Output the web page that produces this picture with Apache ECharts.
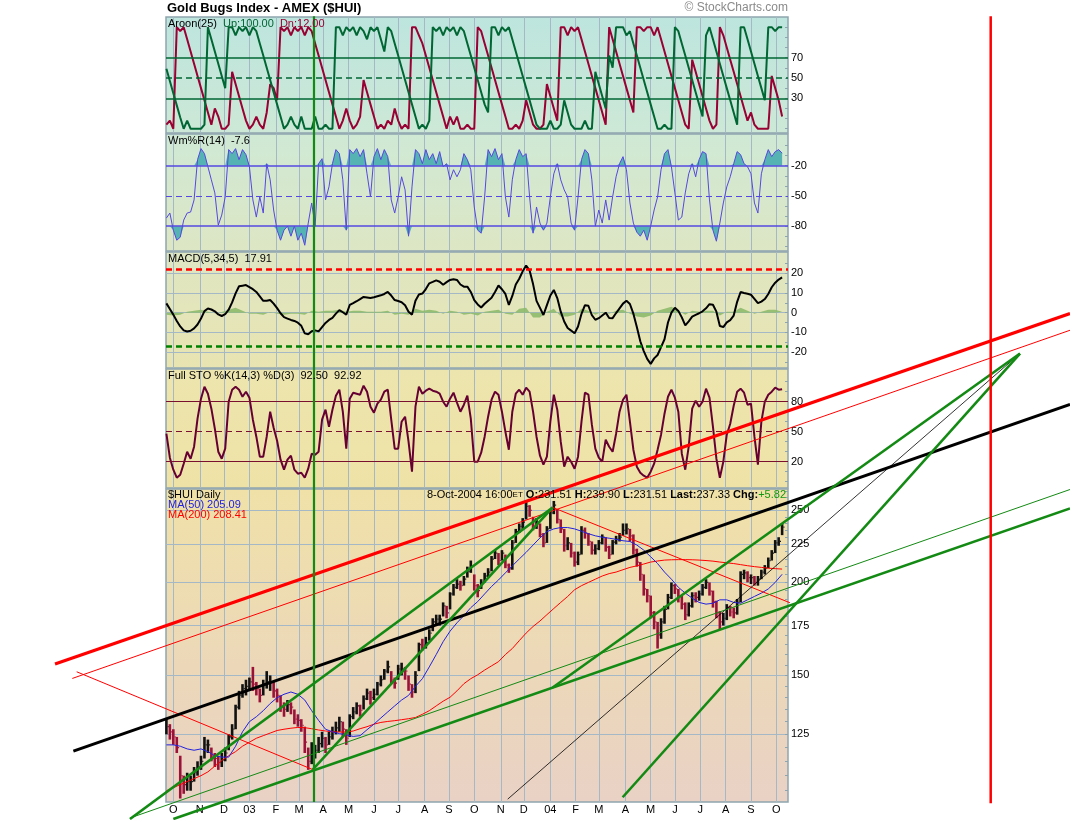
<!DOCTYPE html>
<html><head><meta charset="utf-8">
<script src="https://cdn.jsdelivr.net/npm/echarts@6/dist/echarts.min.js"></script>
<style>html,body{margin:0;padding:0;background:#fff}#c{width:1070px;height:820px}</style>
</head><body><div id="c"></div>
<script>
// ================= DATA =================
const monthLabels = ['O','N','D','03','F','M','A','M','J','J','A','S','O','N','D','04','F','M','A','M','J','J','A','S','O'];
const priceStep = 3;   // trading-day step between price samples
const closes = [128,126,124,120,110,107,108,108,111,113,
115,121,121,117,116,114.5,115.5,118,124,127,
136,141,144,145,147,146,144,141,146,147,
147,143,141,136,135,137,136,131,130.5,128.5,
122,115,119,119,121.5,123.5,121,124,126,127.5,
130,127,123.5,132,134,136.5,134.6,139.5,142,140,
141.5,146,148,152,154,148,146.5,153,153,152,
146,142.5,150,165,164.7,166,171,177,178.5,178.5,
186,182,193,197,199,198,202,207,210,198,
195,200,204,206.5,215,219,214,219,211,208.5,
226,234,237.8,241,253,250,238,241,232,226,
236,248,254,243,236,224,226,219,213,218,
235,233,227,221,222,226,230,223,218,226.5,
228.7,230,235,236,231,221,213,205,196,192,
182,177,170,177,184,191,198,196,192,187,
181,186,192,191,193,197,200,194.7,188.5,182,
177,179,185,182.5,182,188,205,206,203,203,
200,202,206.5,209,214,219,226,227,237.33];
const highs = [131,129,127,124,117,110,111,110,113,115,
117,124,123,120,118,117,118,120,125,129,
137,143,146,148,149,154,147,144,148,152,
150,147,144,141,138,139,138,135,133,131,
128,120,122,121,124,126,124,126,128,130,
132,130,127,133,136,138,137,141,144,143,
144,147,150,153,157,152,149,155,156,154,
150,146,152,166,168,169,173,179,181,181,
188,186,194,199,202,201,204,210,214,205,
199,202,206,209,217,221,219,221,218,212,
228,236,240,244,256.5,254,245,244,240,233,
238,250,257.3,251,243,236,230,226,220,220,
238,237,233,227,225,228,232,230,224,228,
231,233,240,240,236,232,222,213,205,196,
192,183,177,179,186,193,200,199,196,192,
188,188,194,194,195,199,202,200,195,189,
183,182,187,186,185,190,207,208,207,205,
204,204,208,211,216,221,228,230,239.9];
const lows = [125,123,121,118,102.5,104,105,105,108,110,
112,116,118,115,113,112,113,115,119,123,
127,135,140,141,143,143,141,138,141,144,
143,140,138,134,132,134,133,129,128,126,
118,112,114,116,118,120,118,121,123,125,
126,124,121,124,131,133,132,135,139,137,
139,141,145,148,151,146,144,148,150,148,
143,140,142,152,162,163,167,172,175,175,
180,179,184,192,196,195,198,203,206,195,
191,196,200,203,207,215,211,214,209,206,
208,226,233,236,243,245,235,236,230,223,
226,236,247,240,233,220,221,216,210,211,
218,229,224,218,218,221,225,220,215,218,
225,227,231,232,227,218,210,201,192,188,
179,173,163,168,176,184,190,193,188,184,
178,180,185,188,189,192,196,192,185,179,
173,175,178,180,179,181,188,202,200,199,
198,198,202,205,209,214,219,224,231.5];

const maStep = 6;      // trading-day step for the moving averages
const ma50 = [121,121,120.5,119.5,119,119.5,118.5,117,116.5,116.5,
120.5,126,130,132,134.5,137.5,140,141.5,142.5,141.5,
139,134.5,130.5,127,126,125.3,124.8,124.2,124.5,126.8,
129,131.5,134,136.5,139,141,145,148.5,154,160,
166.5,172,176.5,180.5,185,188.5,193,197.5,201.5,206,
210.5,215,219.5,224.5,229.5,234,236,237,237,236,
234.3,232.5,231,230,229.3,228.5,227.5,227,224.5,221,
216.5,212,206.5,202,197,193.5,190.5,188,187,187.5,
189.5,189.5,188,187.5,189.5,191.5,193.5,196,200,205.09];
const ma200 = [105,106,107,108,109,110,111.3,113.3,115.3,117,
118.5,120.5,122,123.5,124.5,125.5,126.5,127,127.4,127.7,
127.6,127.2,126.7,126.3,126,125.9,125.9,126.3,127.2,128,
129,129.7,130.1,130.4,130.8,131.2,131.7,133,134.5,136.5,
138.5,140.2,143,146.2,148.5,150.3,152.5,154.5,156.5,160,
163,167,171,174.5,177.5,181,184.5,188,191.5,195.5,
198,200,202,204,205.5,206.5,208,209.5,210.5,211.7,
213,213.7,214.3,214.5,214.6,214.6,214.5,214.3,214,213.6,
213,212.5,212,211.3,210.6,210,209.5,209,208.7,208.41];

const indStep = 3;     // trading-day step for the indicator lines
const aroonUp = [59,47,35,23,11,0,8,0,0,0,
0,4,100,88,76,64,52,40,100,100,
92,100,96,100,92,100,96,84,72,60,
48,36,24,12,0,4,12,4,0,12,
0,0,0,12,0,0,4,0,0,100,
100,92,100,96,100,92,100,96,88,100,
96,100,88,76,100,96,84,72,60,48,
36,24,12,0,4,0,8,100,96,100,
92,100,96,100,92,100,96,84,72,60,
48,36,24,16,100,100,92,100,96,100,
88,76,64,52,40,28,16,4,0,0,
0,8,0,0,4,28,16,4,0,0,
0,8,0,0,56,44,32,20,72,60,
100,100,100,92,96,84,72,60,48,36,
24,12,0,0,4,0,0,100,96,84,
72,60,48,36,24,12,92,100,88,76,
64,52,40,28,16,4,100,100,88,76,
64,52,40,28,100,100,96,100,100];
const aroonDn = [4,8,0,100,96,100,88,76,64,52,
40,28,16,4,20,12,0,0,4,56,
44,32,20,8,0,4,12,4,0,16,
44,40,28,100,96,100,92,100,96,100,
92,100,96,84,72,60,48,36,24,12,
0,8,20,8,0,4,12,48,36,24,
12,0,4,0,8,4,20,8,0,4,
0,100,100,92,84,72,60,48,36,24,
12,0,12,4,12,0,0,4,0,0,
100,96,84,72,60,48,36,24,12,0,
0,4,0,8,28,16,4,0,0,4,
44,32,20,8,100,100,92,100,96,100,
88,76,64,52,40,28,16,4,100,88,
76,64,52,40,28,16,100,100,96,100,
100,92,100,88,76,64,52,40,28,16,
4,0,68,56,44,32,20,8,0,4,
100,92,80,68,56,44,32,20,8,16,
4,0,0,0,0,52,40,28,12];
const willR = [-72,-67,-84,-94,-91,-74,-67,-66,-54,-14,
-3,-8,-21,-34,-47,-79,-69,-51,-4,-8,
-3,-14,-4,-9,-21,-54,-71,-51,-67,-18,
-34,-64,-84,-94,-84,-80,-90,-80,-94,-87,
-99,-77,-57,-80,-18,-13,-54,-41,-18,-4,
-8,-34,-84,-4,-8,-3,-11,-4,-28,-51,
-11,-3,-14,-4,-11,-54,-67,-51,-31,-44,
-90,-41,-4,-8,-18,-4,-14,-8,-18,-6,
-21,-18,-34,-24,-31,-24,-8,-14,-24,-61,
-84,-87,-51,-4,-11,-3,-14,-8,-51,-71,
-34,-14,-4,-11,-8,-51,-87,-61,-77,-84,
-77,-51,-28,-18,-34,-44,-51,-77,-84,-51,
-14,-4,-8,-34,-80,-64,-77,-54,-74,-51,
-31,-18,-11,-24,-57,-77,-86,-90,-84,-94,
-80,-64,-51,-24,-8,-4,-21,-47,-74,-71,
-47,-28,-18,-31,-14,-6,-8,-54,-84,-95,
-77,-57,-41,-31,-18,-6,-9,-18,-21,-28,
-57,-67,-28,-14,-4,-11,-6,-4,-7.6];
const macd = [4.7,1.9,-1,-4.2,-7,-9,-9.6,-9.2,-8,-6,
-3,0.8,2.1,1.6,0.7,-0.9,-1.7,-0.8,1.5,5.2,
9.8,13.4,13.7,14,13,11.9,10.5,8.3,6,6,
6.4,4.6,2.3,-0.3,-2.3,-3,-3.7,-4.2,-5.1,-6.7,
-10.5,-11,-9.4,-9,-9.5,-7.3,-5.2,-3.7,-2.6,-0.5,
1.3,0.2,-1,3.9,4.8,5.8,6.9,8,7.7,7.4,
7.8,8.3,8.8,9.5,10.5,8.7,6.4,5.9,5.3,3.8,
0.5,-1,6,9.2,9.7,12,14.9,15.6,16.4,15.7,
14.2,15.5,16.6,17,16.6,14.3,13.2,13.2,10.5,6.4,
4.2,2.6,4.5,6.1,7.6,10.5,13.8,11.9,9.5,3.9,
8.5,14.3,17.2,21,23.9,21.4,14.5,6,2.4,-1.2,
3.8,8.7,11.5,7.4,0.5,-4.5,-7.8,-9.1,-10.5,-7,
-0.6,3.8,3.5,-1.3,-3.6,-2.8,-1.4,0,-2.7,-2.8,
-0.2,2.2,4.6,6,4.4,-0.5,-7.3,-14.5,-19.5,-23.5,
-26,-23.2,-21.5,-17.5,-13.5,-5,0,2.5,0.9,-2.4,
-6.5,-4.4,-2,-1.1,-0.3,0.7,2.2,4.3,4,0.5,
-6.8,-7.3,-4.9,-3.8,-1.5,5.5,10.5,10,9.6,9.1,
7,4.8,5.6,6.9,9.5,12.9,15.2,16.8,17.91];
const stoK = [48,24,12,4,7,18,30,23,35,63,
83,95,88,73,53,30,23,33,80,92,
95,92,85,90,84,62,45,25,25,45,
70,54,41,22,12,22,26,12,8,9,
4,13,28,27,30,62,72,55,72,86,
92,70,33,83,89,88,87,96,90,75,
69,78,82,90,92,62,33,33,60,65,
40,10,75,95,88,91,93,91,90,88,
80,75,83,89,79,70,77,86,63,20,
20,29,45,65,82,90,87,70,50,32,
70,88,92,87,94,90,70,45,26,17,
25,60,87,72,40,15,25,20,13,25,
60,89,87,57,33,24,20,42,35,30,
48,70,82,87,60,32,15,9,6,4,
10,18,32,47,68,85,92,84,70,28,
12,35,73,81,75,80,93,84,55,23,
4,20,47,58,76,90,93,89,77,78,
45,17,60,80,87,90,94,92,92.5];
const histStep = 6;    // trading-day step for the MACD histogram
const macdHist = [-1,-1.5,-1,0.5,1,1.5,0.5,-0.3,0.3,1.5,2.5,1,-0.5,-0.5,-1,0.3,-0.5,-1,-0.5,-0.5,
-1,1,0.5,1,1,1.5,0.5,1,1,0.5,0.5,0.5,1,-1,-0.5,-1,2,1,1.5,1,
-0.5,1,0.5,-1,-0.5,-1.5,0.5,1,1.5,-0.5,-1,2,2.5,-2.5,-2.5,0.5,2,-2,-2,-1,
2,1,-1,0.5,-0.5,1,1.5,-0.5,-2,-2.5,-1.5,1,2,3,1,-1,1,0.5,1,1,
-1.5,0.5,0.5,2.5,1,-0.5,0.5,1.5,1.5,0.5];

const priceTicks = [125,150,175,200,225,250];
const aroonTicks = [30,50,70];
const willTicks = [-80,-50,-20];
const macdTicks = [-20,-10,0,10,20];
const stoTicks = [20,50,80];

// hand-drawn trend lines: [tradingDayIndex1, price1, tradingDayIndex2, price2]
const trendLines = [
  [-96.6,155.4,783.7,459.5],
  [-81.6,148.6,783.7,436.3],
  [-77.8,151.7,126.9,112.1],
  [335.0,252.2,540.8,187.8],
  [-80.7,118.7,783.7,346.8],
  [296.0,102.3,740.3,406.0],
  [-31.6,96.2,335.0,252.2],
  [126.9,112.1,335.0,252.2],
  [6.0,96.2,783.7,251.4],
  [-31.6,96.5,783.7,266.6],
  [335.0,144.5,740.3,406.0],
  [395.7,102.9,740.3,406.0],
  [128.0,101.4,128.0,1152],
  [714.9,101.0,714.9,1152]
];

// ================= STYLE / LAYOUT =================
const trendStyles = [
  {c:'#ff0000',w:3.2},{c:'#ff0000',w:1},{c:'#ff0000',w:1},{c:'#ff0000',w:1},
  {c:'#000000',w:3},{c:'#000000',w:0.8},
  {c:'#138a13',w:2.6},{c:'#138a13',w:2.6},{c:'#138a13',w:2.6},{c:'#138a13',w:1},
  {c:'#138a13',w:2.6},{c:'#138a13',w:2.6},
  {c:'#138a13',w:2.2},{c:'#ff0000',w:2.5}
];
const FONT = '"Liberation Sans", Arial, sans-serif';
const W = 1070, H = 820;
const GL = 166, GW = 622, xMin = -0.35, xMax = 539.1;
const panels = [
  {top:17,  h:116, min:-4.2,  max:110,   bg:['#bde5de','#cde8d6']},
  {top:134, h:117, min:-104.7,max:11.5,  bg:['#cfe9d5','#dde6c4']},
  {top:252, h:116, min:-28.1, max:30.8,  bg:['#dee6c3','#e9e4b1']},
  {top:369, h:119, min:-6.3,  max:112.7, bg:['#ece5ad','#efe2a7']},
  {top:489, h:313, min:101.4, max:267,   bg:['#f0e1a8','#e9d1c5'], log:true}
];

// month-start trading-day indices (weekdays from 23-Sep-2002)
const monthIdx = (() => {
  const res = []; const d = new Date(Date.UTC(2002,8,23)); let idx = 0, last = -1;
  while (idx <= 540) {
    const wd = d.getUTCDay();
    if (wd !== 0 && wd !== 6) {
      const m = d.getUTCMonth();
      if (m !== last) { if (last !== -1) res.push(idx); last = m; }
      idx++;
    }
    d.setUTCDate(d.getUTCDate() + 1);
  }
  return res.slice(0, monthLabels.length);
})();
const labelOf = {}; monthIdx.forEach((v,j) => labelOf[v] = monthLabels[j]);

const grid = panels.map(p => ({
  left: GL, width: GW, top: p.top, height: p.h, show: true,
  backgroundColor: new echarts.graphic.LinearGradient(0,0,0,1,[{offset:0,color:p.bg[0]},{offset:1,color:p.bg[1]}]),
  borderColor: '#8ea5af', borderWidth: 1.5
}));
// full-canvas overlay grid sharing the price panel's scales (for the extended trend lines)
const PP = panels[4];
const pxPerIdx = GW / (xMax - xMin);
const lnMax = Math.log(PP.max), lnMin = Math.log(PP.min), pxPerLn = PP.h / (lnMax - lnMin);
grid.push({left:0, top:0, width:W, height:H, show:false});

const xAxis = panels.map((p,i) => ({
  type:'value', gridIndex:i, min:xMin, max:xMax,
  axisLine:{show:false}, axisTick:{show:false, customValues: monthIdx},
  splitLine:{show:true, lineStyle:{color:'#a4b8c5', width:1}},
  axisLabel:{show: i===4, customValues: monthIdx, formatter: v => labelOf[Math.round(v)] || '',
    color:'#000', fontSize:11, fontFamily: FONT, margin:2}
}));
xAxis.push({type:'value', gridIndex:5, show:false,
  min: xMin - GL / pxPerIdx, max: xMin + (W - GL) / pxPerIdx});

function range(a,b,s){const r=[];for(let v=a;v<=b+1e-9;v+=s)r.push(v);return r;}
const labelSets = [aroonTicks, willTicks, macdTicks, stoTicks, priceTicks];
const minorSets = [range(0,100,10), range(-100,0,10), range(-25,25,5), range(0,100,10), range(105,265,5)];
const yAxis = [];
panels.forEach((p,i) => {
  yAxis.push({
    type: p.log ? 'log' : 'value', logBase: Math.E, gridIndex:i, min:p.min, max:p.max, position:'right',
    axisLine:{show:false}, axisTick:{show:false, customValues: labelSets[i]},
    splitLine:{show: i===2 || i===4, lineStyle:{color:'#a4b8c5', width:1}},
    axisLabel:{customValues: labelSets[i], color:'#000', fontSize:11, fontFamily: FONT, margin:3}
  });
});
panels.forEach((p,i) => {
  yAxis.push({
    type: p.log ? 'log' : 'value', logBase: Math.E, gridIndex:i, min:p.min, max:p.max, position:'right',
    axisLine:{show:false}, axisLabel:{show:false}, splitLine:{show:false},
    axisTick:{show:true, inside:true, length:3, customValues: minorSets[i], lineStyle:{color:'#8ea5af'}}
  });
});
yAxis.push({type:'log', logBase: Math.E, gridIndex:5, show:false,
  min: Math.exp(lnMax - (H - PP.top) / pxPerLn), max: Math.exp(lnMax + PP.top / pxPerLn)});

const at = (arr, step) => arr.map((v,k) => [k*step, v]);
function hline(v, color, width, dashed){ return {yAxis:v, lineStyle:{color, width, type: dashed ? [6,4] : 'solid'}}; }
function mk(data){ return {silent:true, symbol:'none', label:{show:false}, animation:false, data}; }

const series = [];
// Aroon
series.push({type:'line', xAxisIndex:0, yAxisIndex:0, data: at(aroonDn,indStep), symbol:'none', lineStyle:{color:'#990033', width:2}, z:3});
series.push({type:'line', xAxisIndex:0, yAxisIndex:0, data: at(aroonUp,indStep), symbol:'none', lineStyle:{color:'#006633', width:2}, z:4,
  markLine: mk([hline(70,'#006633',1.5), hline(50,'#006633',1.5,true), hline(30,'#006633',1.5)])});
// Williams %R
series.push({type:'line', xAxisIndex:1, yAxisIndex:1, data: willR.map((w,k)=>[k*indStep, Math.max(w,-20)]), symbol:'none',
  lineStyle:{width:0}, areaStyle:{origin:-20, color:'#56b3b3', opacity:1}, z:2});
series.push({type:'line', xAxisIndex:1, yAxisIndex:1, data: willR.map((w,k)=>[k*indStep, Math.min(w,-80)]), symbol:'none',
  lineStyle:{width:0}, areaStyle:{origin:-80, color:'#56b3b3', opacity:1}, z:2});
series.push({type:'line', xAxisIndex:1, yAxisIndex:1, data: at(willR,indStep), symbol:'none', lineStyle:{color:'#5548e0', width:1}, z:4,
  markLine: mk([hline(-20,'#5548e0',1.5), hline(-50,'#5548e0',1.2,true), hline(-80,'#5548e0',1.5)])});
// MACD
series.push({type:'line', xAxisIndex:2, yAxisIndex:2, data: at(macdHist,histStep), symbol:'none', lineStyle:{width:0},
  areaStyle:{origin:0, color:'#8dba6c', opacity:0.9}, z:2});
series.push({type:'line', xAxisIndex:2, yAxisIndex:2, data: at(macd,indStep), symbol:'none', lineStyle:{color:'#000', width:2}, z:4,
  markLine: mk([hline(22.2,'#ff0000',2.5,true), hline(-16.9,'#008000',2.5,true)])});
// Full STO
series.push({type:'line', xAxisIndex:3, yAxisIndex:3, data: at(stoK,indStep), symbol:'none', lineStyle:{color:'#660033', width:2}, z:4,
  markLine: mk([hline(80,'#7a1030',1.2), hline(50,'#7a1030',1.2,true), hline(20,'#7a1030',1.2)])});
// Price bars
const barData = closes.map((c,k) => [k*priceStep, c, highs[k], lows[k], (k===0 || c >= closes[k-1]) ? 1 : 0]);
series.push({type:'custom', xAxisIndex:4, yAxisIndex:4, data: barData, encode:{x:0, y:[1,2,3]}, z:3,
  renderItem: (params, api) => {
    const x = api.value(0);
    const hi = api.coord([x, api.value(2)]), lo = api.coord([x, api.value(3)]), cl = api.coord([x, api.value(1)]);
    const col = api.value(4) ? '#111111' : '#9a1238';
    return {type:'group', children:[
      {type:'rect', shape:{x: hi[0]-1.3, y: hi[1], width:2.6, height: Math.max(1, lo[1]-hi[1])}, style:{fill:col}},
      {type:'rect', shape:{x: cl[0]+1.3, y: cl[1]-0.6, width:1, height:1.2}, style:{fill:col}}
    ]};
  }});
series.push({type:'line', xAxisIndex:4, yAxisIndex:4, data: at(ma200,maStep), symbol:'none', lineStyle:{color:'#ff0000', width:1}, z:4});
series.push({type:'line', xAxisIndex:4, yAxisIndex:4, data: at(ma50,maStep), symbol:'none', lineStyle:{color:'#2222dd', width:1}, z:4});
// Trend lines on the overlay grid (same scales as the price panel, extended to the whole canvas)
trendLines.forEach((t,i) => {
  series.push({type:'line', xAxisIndex:5, yAxisIndex:10, data:[[t[0],t[1]],[t[2],t[3]]], symbol:'none', clip:false, silent:true,
    lineStyle:{color: trendStyles[i].c, width: trendStyles[i].w}, z:20});
});

const txt = (x, y, text, extra) => Object.assign({type:'text', x, y, z:30, silent:true,
  style: Object.assign({text, fill:'#000', font:'11px ' + FONT}, extra || {})});
const graphic = [
  txt(167, 2, 'Gold Bugs Index - AMEX ($HUI)', {font:'bold 13px ' + FONT}),
  txt(788, 2, '\u00a9 StockCharts.com', {font:'12px ' + FONT, fill:'#8a8a8a', align:'right'}),
  txt(168, 18, '{k|Aroon(25)}  {u|Up:100.00}  {d|Dn:12.00}', {rich:{k:{fill:'#000',font:'11px '+FONT}, u:{fill:'#006633',font:'11px '+FONT}, d:{fill:'#990033',font:'11px '+FONT}}}),
  txt(168, 135, 'Wm%R(14)  -7.6'),
  txt(168, 253, 'MACD(5,34,5)  17.91'),
  txt(168, 370, 'Full STO %K(14,3) %D(3)  92.50  92.92'),
  txt(168, 489, '$HUI Daily'),
  txt(168, 499, 'MA(50) 205.09', {fill:'#2222dd'}),
  txt(168, 509, 'MA(200) 208.41', {fill:'#ff0000'}),
  txt(786, 489, '{n|8-Oct-2004 16:00}{s|ET} {b|O:}{n|231.51} {b|H:}{n|239.90} {b|L:}{n|231.51} {b|Last:}{n|237.33} {b|Chg:}{g|+5.82}',
    {align:'right', rich:{n:{fill:'#000',font:'11px '+FONT}, s:{fill:'#000',font:'8px '+FONT}, b:{fill:'#000',font:'bold 11px '+FONT}, g:{fill:'#119911',font:'11px '+FONT}}})
];

const chart = echarts.init(document.getElementById('c'), null, {renderer:'canvas', width:W, height:H});
chart.setOption({animation:false, backgroundColor:'#ffffff', textStyle:{fontFamily:FONT},
  grid, xAxis, yAxis, series, graphic});
</script></body></html>
